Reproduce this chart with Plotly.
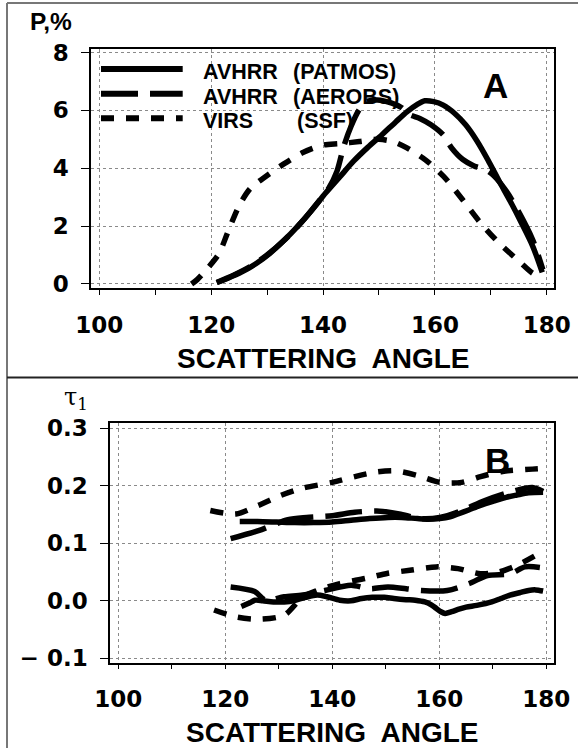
import plotly.graph_objects as go

# ---------------- data: panel A (polarization, %) ----------------
patmos_a_x = [121, 123, 125.5, 128, 130.5, 133, 135.5, 138, 140.5, 143, 145.5, 148, 150.5, 153, 155,
              156.8, 158.2, 159.8, 161.5, 163.5, 165.5, 167.5, 169.5, 171.5, 173.5, 175.5, 177.5, 179.2]
patmos_a_y = [0.05, 0.2, 0.42, 0.7, 1.06, 1.5, 2.0, 2.55, 3.15, 3.7, 4.25, 4.72, 5.15, 5.6, 5.95,
              6.2, 6.33, 6.3, 6.18, 5.9, 5.5, 4.95, 4.28, 3.55, 2.85, 2.1, 1.3, 0.4]

aerobs_a_x = [121, 124, 127, 130, 133, 136, 139, 141, 142.5, 143.7, 145, 146.4, 147.7, 149.7, 152.3,
              154, 155.5, 157.3, 159.3, 161.5, 163, 165, 167, 169, 170.5, 172.8, 174.8, 177.5, 179.3]
aerobs_a_y = [0.05, 0.3, 0.6, 1.0, 1.5, 2.1, 2.8, 3.3, 3.9, 4.75, 5.44, 6.0, 6.3, 6.36, 6.25,
              6.1, 5.85, 5.72, 5.5, 5.15, 4.7, 4.3, 4.08, 3.95, 3.75, 3.2, 2.56, 1.52, 0.5]

virs_a_x = [116.5, 117.5, 119.4, 121.4, 123, 125, 127, 130, 133, 136.5, 140, 143, 146.5, 150,
            152.5, 155, 158.3, 161.6, 165, 168.2, 171.5, 174.8, 177.5, 178.5]
virs_a_y = [0.0, 0.15, 0.55, 1.05, 1.8, 2.7, 3.3, 3.75, 4.15, 4.55, 4.8, 4.85, 4.92, 5.0,
            4.92, 4.7, 4.29, 3.71, 2.9, 2.1, 1.41, 0.83, 0.37, 0.3]

# ---------------- data: panel B (tau_1) ----------------
patmos_b_up_x = [122.7, 126, 129.6, 133, 136.5, 140, 143.5, 147, 150.4, 153, 155.9, 158, 160.1, 162,
                 163.5, 165.5, 167.7, 170, 172.5, 174.5, 176.7, 179.4]
patmos_b_up_y = [0.138, 0.138, 0.137, 0.136, 0.136, 0.137, 0.140, 0.143, 0.145, 0.145, 0.143, 0.142,
                 0.143, 0.146, 0.151, 0.158, 0.166, 0.173, 0.180, 0.184, 0.188, 0.189]

patmos_b_lo_x = [123, 124.5, 125.5, 127, 129, 131, 133.1, 135, 137.2, 139, 141.4, 143.5, 145.5, 147.5,
                 149.7, 151.5, 153.8, 155.5, 157.3, 158.5, 159.4, 160.3, 161.1, 162.3, 163.5, 165, 167,
                 169.8, 171.5, 173.2, 175, 176.7, 178, 179.4]
patmos_b_lo_y = [-0.010, -0.004, 0.001, 0.0, -0.002, -0.002, 0.001, 0.006, 0.010, 0.007, 0.001, 0.0,
                 0.004, 0.006, 0.006, 0.004, 0.002, 0.001, -0.002, -0.007, -0.013, -0.019, -0.022,
                 -0.019, -0.015, -0.011, -0.008, -0.002, 0.004, 0.010, 0.014, 0.018, 0.019, 0.017]

aerobs_b_up_x = [121, 126.2, 131.7, 135.2, 140, 144.2, 148.3, 152.5, 156.6, 160.1, 164.2, 168.4,
                 173.2, 177.4, 179.4]
aerobs_b_up_y = [0.108, 0.122, 0.141, 0.145, 0.148, 0.154, 0.156, 0.151, 0.143, 0.145, 0.157, 0.174,
                 0.189, 0.197, 0.190]

aerobs_b_lo_x = [121, 125.5, 127.5, 131, 134.5, 138.6, 143.5, 147, 150.4, 153.8, 156.6, 161.5, 165.6,
                 169, 173.2, 176, 178.8]
aerobs_b_lo_y = [0.024, 0.016, 0.001, 0.007, 0.010, 0.018, 0.027, 0.021, 0.024, 0.021, 0.018, 0.018,
                 0.030, 0.044, 0.047, 0.059, 0.058]

virs_b_up_x = [117.2, 122, 126.2, 130.3, 134.5, 140, 144.2, 148.3, 151.8, 155.9, 160.1, 164.2, 167.7,
               171.8, 177.4, 179.1]
virs_b_up_y = [0.157, 0.151, 0.166, 0.183, 0.196, 0.206, 0.216, 0.224, 0.226, 0.218, 0.206, 0.206,
               0.216, 0.225, 0.229, 0.230]

virs_b_lo_x = [117.9, 122, 126.2, 131, 134.5, 137.2, 141.4, 146.2, 150.4, 154.5, 159.4, 163.5, 167.7,
               171.1, 174.6, 178.8]
virs_b_lo_y = [-0.016, -0.028, -0.032, -0.025, 0.007, 0.018, 0.030, 0.039, 0.048, 0.053, 0.059, 0.056,
               0.047, 0.050, 0.062, 0.083]

x_tickvals = [100, 120, 140, 160, 180]
x_ticktext = ["100", "120", "140", "160", "180"]
ya_tickvals = [0, 2, 4, 6, 8]
ya_ticktext = ["0", "2", "4", "6", "8"]
yb_tickvals = [-0.1, 0.0, 0.1, 0.2, 0.3]
yb_ticktext = ["\u2212 0.1", "0.0", "0.1", "0.2", "0.3"]

legend_names = ["AVHRR", "AVHRR", "VIRS"]
legend_sources = ["(PATMOS)", "(AEROBS)", "(SSF)"]

# ---------------- styles ----------------
LW = 5.5
DASH_SOLID = "solid"
DASH_LONG = "37px,12px"
DASH_SHORT = "13px,12px"
TXT = "Liberation Sans"
TICKFONT = dict(family="DejaVu Sans", size=23, color="black", weight="bold")

fig = go.Figure()

def add(x, y, dash, xa, ya):
    fig.add_trace(go.Scatter(x=x, y=y, mode="lines", xaxis=xa, yaxis=ya, showlegend=False,
                             line=dict(color="black", width=LW, dash=dash, shape="spline",
                                       smoothing=0.8), hoverinfo="skip"))

add(virs_a_x, virs_a_y, DASH_SHORT, "x", "y")
add(aerobs_a_x, aerobs_a_y, DASH_LONG, "x", "y")
add(patmos_a_x, patmos_a_y, DASH_SOLID, "x", "y")

add(virs_b_up_x, virs_b_up_y, DASH_SHORT, "x2", "y2")
add(virs_b_lo_x, virs_b_lo_y, DASH_SHORT, "x2", "y2")
add(aerobs_b_up_x, aerobs_b_up_y, DASH_LONG, "x2", "y2")
add(aerobs_b_lo_x, aerobs_b_lo_y, DASH_LONG, "x2", "y2")
add(patmos_b_up_x, patmos_b_up_y, DASH_SOLID, "x2", "y2")
add(patmos_b_lo_x, patmos_b_lo_y, DASH_SOLID, "x2", "y2")

W, H = 578, 748
def px(v):
    return v / W
def py(v):
    return (H - v) / H

common_x = dict(tickvals=x_tickvals, ticktext=x_ticktext, ticks="outside", ticklen=5, tickwidth=1.2,
                tickcolor="black", showline=True, linecolor="black", linewidth=1.5, mirror=True,
                showgrid=True, gridcolor="#8a8a8a", gridwidth=1, griddash="dot", zeroline=False,
                tickfont=TICKFONT, ticklabelstandoff=10, automargin=False,
                minor=dict(dtick=10, tick0=100, ticks="outside", ticklen=5, tickwidth=1.2,
                           tickcolor="black", showgrid=False))
common_y = dict(ticks="outside", ticklen=8, tickwidth=1.2, tickcolor="black", showline=True,
                linecolor="black", linewidth=1.5, mirror=True, showgrid=True, gridcolor="#8a8a8a",
                gridwidth=1, griddash="dot", zeroline=False, tickfont=TICKFONT, ticklabelstandoff=8,
                automargin=False)

fig.update_layout(
    width=W, height=H, margin=dict(l=0, r=0, t=0, b=0, autoexpand=False),
    paper_bgcolor="white", plot_bgcolor="white", showlegend=False,
    xaxis=dict(domain=[px(91), px(554.3)], range=[98.52, 181.35], anchor="y", **common_x),
    yaxis=dict(domain=[py(288.3), py(49)], range=[-0.15, 8.12], anchor="x",
               tickvals=ya_tickvals, ticktext=ya_ticktext, **common_y),
    xaxis2=dict(domain=[px(110), px(554)], range=[98.45, 181.44], anchor="y2", **common_x),
    yaxis2=dict(domain=[py(662.5), py(423.3)], range=[-0.1073, 0.3087], anchor="x2",
                tickvals=yb_tickvals, ticktext=yb_ticktext, **common_y),
)

anns = []
def ann(text, x, y, size, xanchor="center", yanchor="middle", weight="bold", family=TXT):
    anns.append(dict(text=text, x=px(x), y=py(y), xref="paper", yref="paper", showarrow=False,
                     xanchor=xanchor, yanchor=yanchor,
                     font=dict(family=family, size=size, color="black", weight=weight)))

ann("P,%", 28, 21, 24.5, xanchor="left")
ann("\u03c4<sub>1</sub>", 62, 398, 24, xanchor="left", weight="normal", family="DejaVu Serif")
ann("A", 495, 85, 35)
ann("B", 497.7, 460, 35)
ann("SCATTERING  ANGLE", 322.6, 358, 28)
ann("SCATTERING  ANGLE", 332, 732, 28)

legend_y = [69, 93.7, 118.3]
legend_dash = [DASH_SOLID, DASH_LONG, DASH_SHORT]
src_x = [291, 291, 295]
shapes = []
for i in range(3):
    shapes.append(dict(type="line", xref="paper", yref="paper", x0=px(101), x1=px(182.7),
                       y0=py(legend_y[i]), y1=py(legend_y[i]),
                       line=dict(color="black", width=6, dash=legend_dash[i])))
    ann(legend_names[i], 201, legend_y[i] + 3, 21.5, xanchor="left")
    ann(legend_sources[i], src_x[i], legend_y[i] + 3, 21.5, xanchor="left")

# outer panel borders
shapes.append(dict(type="line", xref="paper", yref="paper", x0=px(7), x1=1, y0=py(3), y1=py(3),
                   line=dict(color="#777777", width=2)))
shapes.append(dict(type="line", xref="paper", yref="paper", x0=px(7), x1=px(7), y0=py(3), y1=0,
                   line=dict(color="#777777", width=2)))
shapes.append(dict(type="line", xref="paper", yref="paper", x0=px(7), x1=1, y0=py(377.5), y1=py(377.5),
                   line=dict(color="#222222", width=2)))

fig.update_layout(annotations=anns, shapes=shapes)
fig.write_html("out.html")
